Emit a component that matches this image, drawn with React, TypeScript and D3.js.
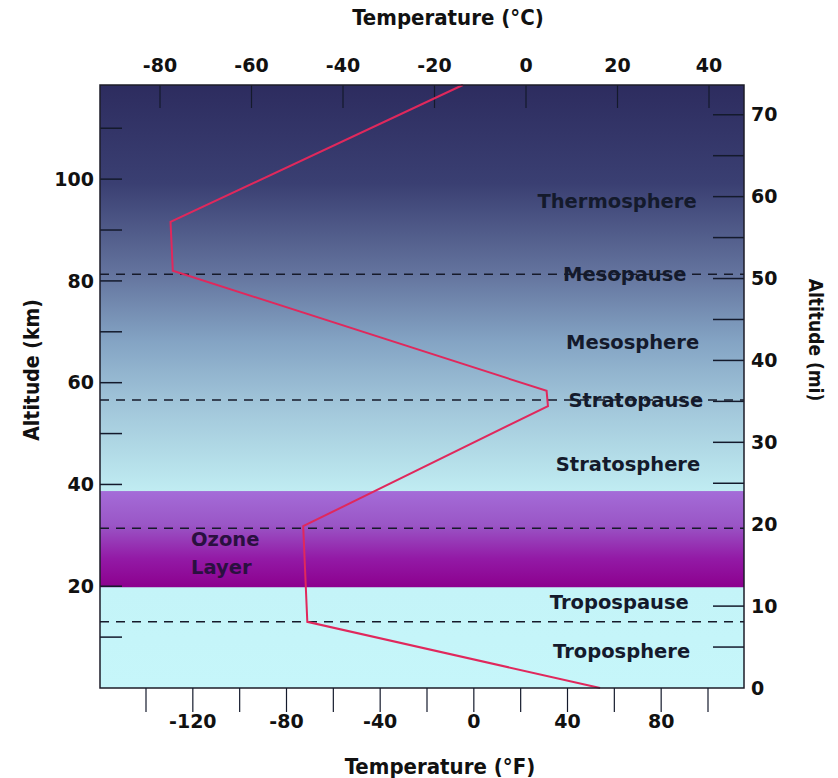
import React from "react";
import * as d3 from "d3";

// ---- data ----
const profileKm = [118.5, 91.6, 82.0, 58.4, 55.4, 31.8, 13.0, 0];
const profileTempC = [-13.8, -77.7, -77.2, 4.5, 4.8, -48.7, -47.8, 16.2];

const boundaryNames = ["Mesopause", "Stratopause", "", "Tropospause"];
const boundaryKm = [81.3, 56.6, 31.4, 13.0];

const layerNames = ["Thermosphere", "Mesopause", "Mesosphere", "Stratopause", "Stratosphere", "Tropospause", "Troposphere"];
const layerLabelKm = [95.7, 81.3, 68.0, 56.6, 44.0, 16.9, 7.3];
const layerLabelTempC = [19.9, 21.6, 23.3, 24.0, 22.3, 20.4, 20.9];

const ozoneRangeKm = [19.8, 38.7];
const ozoneLabel = ["Ozone", "Layer"];

const tickC = [-80, -60, -40, -20, 0, 20, 40];
const tickFMinor = [-140, -120, -100, -80, -60, -40, -20, 0, 20, 40, 60, 80, 100];
const tickFLabels = [-120, -80, -40, 0, 40, 80];
const tickKm = [10, 20, 30, 40, 50, 60, 70, 80, 90, 100, 110];
const tickKmLabels = [20, 40, 60, 80, 100];
const tickMi = [5, 10, 15, 20, 25, 30, 35, 40, 45, 50, 55, 60, 65, 70];
const tickMiLabels = [0, 10, 20, 30, 40, 50, 60, 70];

const KM_PER_MI = 1.609344;

export default function App() {
  const W = 838, H = 778;
  const left = 100, right = 744, top = 85, bottom = 688;
  const kmTop = 118.5;

  const yKm = d3.scaleLinear().domain([0, kmTop]).range([bottom, top]);
  const yMi = d3.scaleLinear().domain([0, kmTop / KM_PER_MI]).range([bottom, top]);
  const xC = d3.scaleLinear().domain([-80, 40]).range([160, 709]);
  const xF = d3.scaleLinear().domain([-140, 100]).range([146, 708]);

  const pts: [number, number][] = profileKm.map((k, i) => [xC(profileTempC[i]), yKm(k)]);
  const line = d3.line<[number, number]>().x(d => d[0]).y(d => d[1]);

  const font = "'DejaVu Sans', Verdana, sans-serif";
  const titleFont = "'DejaVu Sans Condensed', 'DejaVu Sans', sans-serif";
  const ink = "#141a2c";

  const inBand = (km: number) => km > ozoneRangeKm[0] + 0.3 && km < ozoneRangeKm[1];
  const bandTop = yKm(ozoneRangeKm[1]);
  const bandBot = yKm(ozoneRangeKm[0]);
  const h = bottom - top;
  const off = (y: number) => `${((y - top) / h) * 100}%`;

  return (
    <svg width={W} height={H} style={{ position: "absolute", left: 0, top: 0, background: "#fff" }}>
      <defs>
        <linearGradient id="sky" x1="0" y1="0" x2="0" y2="1">
          <stop offset="0%" stopColor="#2d2c5f" />
          <stop offset={off(183)} stopColor="#3a3f72" />
          <stop offset={off(274)} stopColor="#64749e" />
          <stop offset={off(342)} stopColor="#84a4c4" />
          <stop offset={off(400)} stopColor="#9fc3d8" />
          <stop offset={off(464)} stopColor="#b6e0ea" />
          <stop offset={off(491)} stopColor="#c0ecf2" />
          <stop offset={off(590)} stopColor="#c4f4f8" />
          <stop offset="100%" stopColor="#c6f6fa" />
        </linearGradient>
        <linearGradient id="ozone" x1="0" y1="0" x2="0" y2="1">
          <stop offset="0%" stopColor="#a46cd8" />
          <stop offset="35%" stopColor="#9a56c6" />
          <stop offset="70%" stopColor="#931aa6" />
          <stop offset="100%" stopColor="#8c008e" />
        </linearGradient>
      </defs>

      <rect x={left} y={top} width={right - left} height={h} fill="url(#sky)" />
      <rect x={left} y={bandTop} width={right - left} height={bandBot - bandTop} fill="url(#ozone)" />

      {/* left km ticks */}
      {tickKm.filter(k => !inBand(k)).map(k => (
        <line key={"lk" + k} x1={left} x2={left + 22} y1={yKm(k)} y2={yKm(k)} stroke={ink} strokeWidth={1.5} />
      ))}
      {/* right mi ticks */}
      {tickMi.filter(m => !inBand(m * KM_PER_MI)).map(m => (
        <line key={"rm" + m} x1={right - 31} x2={right} y1={yMi(m)} y2={yMi(m)} stroke={ink} strokeWidth={1.5} />
      ))}
      {/* top C ticks */}
      {tickC.map(t => (
        <line key={"tc" + t} x1={xC(t)} x2={xC(t)} y1={top} y2={top + 23} stroke={ink} strokeWidth={1.2} />
      ))}

      {/* boundary dashed lines */}
      {boundaryKm.map((k, i) => (
        <line key={"b" + i} data-name={boundaryNames[i]} x1={left} x2={right} y1={yKm(k)} y2={yKm(k)}
          stroke="#161a2a" strokeWidth={1.5} strokeDasharray="9,7" />
      ))}

      {/* temperature profile */}
      <path d={line(pts) || ""} fill="none" stroke="#e0285c" strokeWidth={2} />

      {/* layer labels */}
      {layerNames.map((n, i) => (
        <text key={n} x={xC(layerLabelTempC[i])} y={yKm(layerLabelKm[i])} dy="0.35em" textAnchor="middle"
          fontFamily={font} fontWeight="bold" fontSize={19.5} fill={ink}>{n}</text>
      ))}
      {ozoneLabel.map((s, i) => (
        <text key={s} x={191} y={yKm(ozoneRangeKm[1]) + 48 + i * 28} dy="0.35em"
          fontFamily={font} fontWeight="bold" fontSize={19.5} fill="#2a1040">{s}</text>
      ))}

      {/* frame */}
      <rect x={left} y={top} width={right - left} height={h} fill="none" stroke="#1c1c28" strokeWidth={1.5} />

      {/* bottom F ticks */}
      {tickFMinor.map(t => (
        <line key={"bf" + t} x1={xF(t)} x2={xF(t)} y1={bottom} y2={bottom + 24} stroke={ink} strokeWidth={1.2} />
      ))}

      {/* tick labels */}
      {tickC.map(t => (
        <text key={"lc" + t} x={xC(t)} y={72} textAnchor="middle" fontFamily={font} fontWeight="bold" fontSize={19} fill="#111">{t}</text>
      ))}
      {tickFLabels.map(t => (
        <text key={"lf" + t} x={xF(t)} y={728} textAnchor="middle" fontFamily={font} fontWeight="bold" fontSize={19} fill="#111">{t}</text>
      ))}
      {tickKmLabels.map(k => (
        <text key={"lkm" + k} x={94} y={yKm(k)} dy="0.35em" textAnchor="end" fontFamily={font} fontWeight="bold" fontSize={19} fill="#111">{k}</text>
      ))}
      {tickMiLabels.map(m => (
        <text key={"lmi" + m} x={751} y={yMi(m)} dy="0.35em" textAnchor="start" fontFamily={font} fontWeight="bold" fontSize={19} fill="#111">{m}</text>
      ))}

      {/* axis titles */}
      <text x={448} y={25} textAnchor="middle" fontFamily={titleFont} fontWeight="bold" fontSize={22} fill="#111">Temperature (°C)</text>
      <text x={440} y={774} textAnchor="middle" fontFamily={titleFont} fontWeight="bold" fontSize={22} fill="#111">Temperature (°F)</text>
      <text transform="translate(32,370) rotate(-90)" textAnchor="middle" dy="0.35em" fontFamily={titleFont} fontWeight="bold" fontSize={21} fill="#111">Altitude (km)</text>
      <text transform="translate(816,340) rotate(90)" textAnchor="middle" dy="0.35em" fontFamily={titleFont} fontWeight="bold" fontSize={19} fill="#111">Altitude (mi)</text>
    </svg>
  );
}
